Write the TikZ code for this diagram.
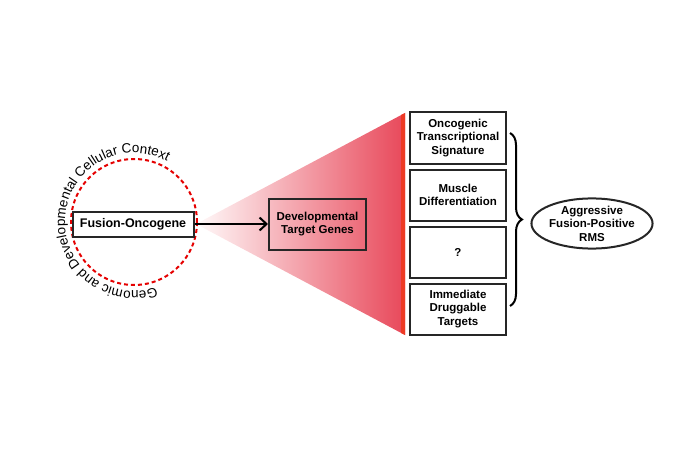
\documentclass[tikz,border=0pt]{standalone}
\usepackage{fontspec}
\setmainfont{Liberation Sans}
\usetikzlibrary{shapes.geometric,decorations.text,decorations.pathreplacing,arrows.meta}
\definecolor{myred}{HTML}{E8485A}
\definecolor{edgered}{HTML}{EE3A24}
\begin{document}
\begin{tikzpicture}[x=1pt,y=-1pt,
  box/.style={draw=black!85,line width=2pt,align=center,font=\bfseries\fontsize{11.5}{13.5}\selectfont,inner sep=0pt},
  rbox/.style={box,minimum width=96pt,minimum height=51pt}]
\useasboundingbox (0,0) rectangle (700,465);
% triangle
\shade[left color=red!2,right color=myred] (196,224) -- (405,113) -- (405,335) -- cycle;
\fill[edgered] (401,115) -- (405,113) -- (405,335) -- (401,333) -- cycle;
% circle
\draw[red!90!black,dash pattern=on 4pt off 3pt,line width=2pt] (134,222) circle (63);
\path[decorate,decoration={text along path,text align=center,text={|\fontsize{13.5}{15}\selectfont|Genomic and Developmental Cellular Context}}]
  (134,222) ++(65:69) arc[start angle=65,end angle=305,radius=69];
\node[box,minimum width=121pt,minimum height=25pt,fill=white,font=\bfseries\fontsize{12.5}{14}\selectfont] (fo) at (133,224) {Fusion-Oncogene};
\node[box,minimum width=97pt,minimum height=51pt] (dt) at (317.5,224) {Developmental\\Target Genes};
\draw[line width=2pt,-{Straight Barb[length=7pt,width=13pt]}] (fo) -- (dt);
\node[rbox] (b1) at (458,138) {Oncogenic\\Transcriptional\\Signature};
\node[rbox] (b2) at (458,195) {Muscle\\Differentiation};
\node[rbox] (b3) at (458,252) {?};
\node[rbox] (b4) at (458,309) {Immediate\\Druggable\\Targets};
\draw[line width=2pt,decorate,decoration={brace,amplitude=12pt}] (510,133) -- (510,306);
\node[ellipse,draw=black!85,line width=2pt,minimum width=110pt,minimum height=49pt,inner sep=0pt,align=center,font=\bfseries\fontsize{11.5}{13.5}\selectfont] (rms) at (592,223.5) {Aggressive\\Fusion-Positive\\RMS};
\end{tikzpicture}
\end{document}
